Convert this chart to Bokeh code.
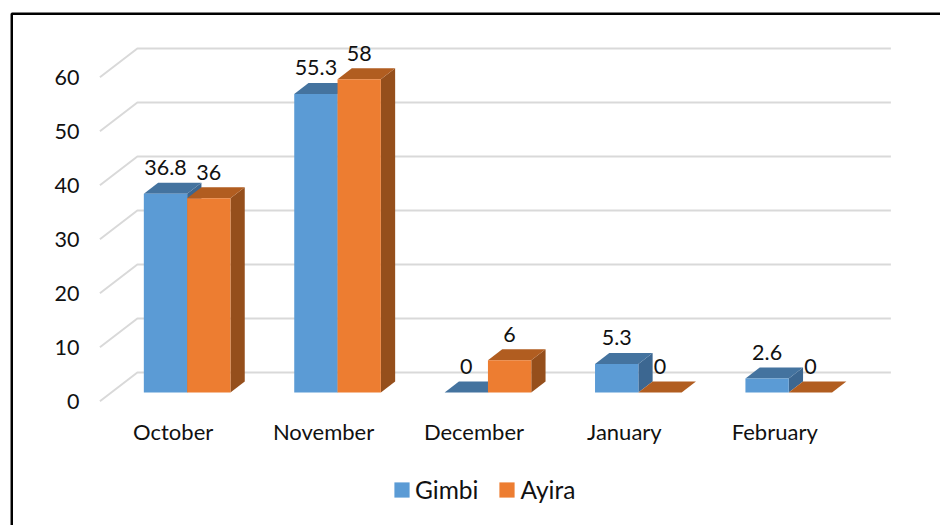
from bokeh.plotting import figure
from bokeh.models import (Range1d, LinearAxis, FixedTicker, Legend, LegendItem,
                          BoxAnnotation, ColumnDataSource)
from bokeh.embed import file_html
from bokeh.resources import INLINE

months = ["October", "November", "December", "January", "February"]
gimbi = [36.8, 55.3, 0, 5.3, 2.6]
ayira = [36, 58, 6, 0, 0]
y_ticks = [0, 10, 20, 30, 40, 50, 60]

FONT = "Lato"
TXT = "#111111"
FS = "21.5px"

# colours: front, top, side
BLUE = ("#5B9BD5", "#44739F", "#3C6791")
ORANGE = ("#ED7D31", "#B15D20", "#954F1C")

# layout geometry in data units
bar_w = 0.288
depth_x = 0.095
depth_y = 2.04
floor_shift = 1.6      # bars stand this far above the wall's front zero
label_shift = 0.093    # category labels sit left of the category centre
wall_front_x = -0.58
wall_back_x = -0.331
wall_right_x = 4.679
wall_rise = 5.3

x0, x1 = -1.241, 5.009
y0, y1 = -23.02, 74.2

p = figure(width=940, height=525, output_backend="svg", toolbar_location=None,
           x_range=Range1d(x0, x1), y_range=Range1d(y0, y1),
           x_axis_type=None, y_axis_type=None,
           min_border_left=0, min_border_right=0, min_border_top=0,
           min_border_bottom=0, outline_line_color=None,
           background_fill_color="white", border_fill_color="white")

p.extra_y_ranges["bars"] = Range1d(y0 - floor_shift, y1 - floor_shift)
p.extra_x_ranges["labels"] = Range1d(x0 + label_shift, x1 + label_shift)

# axes: their labels are pulled back over the plot area
ya = LinearAxis(ticker=FixedTicker(ticks=y_ticks), axis_line_color=None,
                major_tick_line_color=None, minor_tick_line_color=None,
                major_label_standoff=-85, major_label_text_font=FONT,
                major_label_text_font_size=FS, major_label_text_color=TXT)
p.add_layout(ya, "left")
xa = LinearAxis(x_range_name="labels", ticker=FixedTicker(ticks=list(range(len(months)))),
                major_label_overrides={i: m for i, m in enumerate(months)},
                axis_line_color=None, major_tick_line_color=None, minor_tick_line_color=None,
                major_label_standoff=-114, major_label_text_font=FONT,
                major_label_text_font_size="22px", major_label_text_color=TXT)
p.add_layout(xa, "below")

# wall and floor gridlines
p.multi_line(xs=[[wall_front_x, wall_back_x, wall_right_x] for _ in y_ticks],
             ys=[[v, v + wall_rise, v + wall_rise] for v in y_ticks],
             line_color="#D9D9D9", line_width=2)


def draw_series(values, offset, colors):
    lefts = [i + offset for i in range(len(values))]
    rights = [l + bar_w for l in lefts]
    top_xs = [[l, r, r + depth_x, l + depth_x] for l, r in zip(lefts, rights)]
    top_ys = [[v, v, v + depth_y, v + depth_y] for v in values]
    side_xs = [[r, r + depth_x, r + depth_x, r] for r in rights]
    side_ys = [[0, depth_y, v + depth_y, v] for v in values]
    p.patches(side_xs, side_ys, fill_color=colors[2], line_color=None, y_range_name="bars")
    p.patches(top_xs, top_ys, fill_color=colors[1], line_color=None, y_range_name="bars")
    front = p.quad(left=lefts, right=rights, bottom=[0] * len(values), top=values,
                   fill_color=colors[0], line_color=None, y_range_name="bars")
    centres = [l + bar_w / 2 for l in lefts]
    return front, centres


front_g, cx_g = draw_series(gimbi, -bar_w, BLUE)
front_a, cx_a = draw_series(ayira, 0, ORANGE)

# data labels
src = ColumnDataSource(dict(x=cx_g + cx_a, y=gimbi + ayira,
                            t=[f"{v:g}" for v in gimbi + ayira]))
p.text("x", "y", text="t", source=src, y_range_name="bars", y_offset=-26,
       text_align="center", text_baseline="middle", text_font={"value": FONT},
       text_font_size={"value": FS}, text_color=TXT)

# legend, placed relative to the plot frame
legend = Legend(items=[LegendItem(label="Gimbi", renderers=[front_g]),
                       LegendItem(label="Ayira", renderers=[front_a])],
                orientation="horizontal", location=(392, 21), border_line_color=None,
                background_fill_alpha=0, glyph_width=19, glyph_height=19, label_standoff=4,
                spacing=19, padding=0, margin=0, label_text_font=FONT,
                label_text_font_size="24.5px", label_text_color=TXT)
p.add_layout(legend)

# picture frame (cut off at the right and bottom of the page)
p.add_layout(BoxAnnotation(left=-1.166, right=x1 + 1, top=71.74, bottom=y0 - 5,
                           fill_alpha=0, line_color="black", line_alpha=1, line_width=2.5))

open("out.html", "w").write(file_html(p, INLINE))
